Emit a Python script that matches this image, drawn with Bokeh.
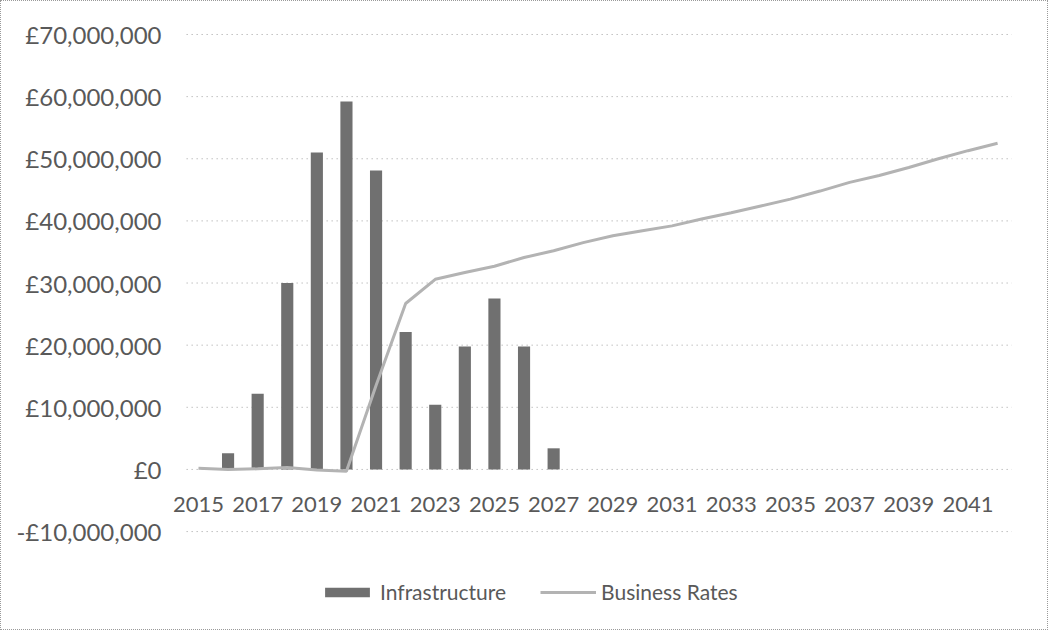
from bokeh.plotting import figure
from bokeh.models import (ColumnDataSource, FixedTicker, CustomJSTickFormatter, Legend, LegendItem, Range1d)
from bokeh.embed import file_html
from bokeh.resources import INLINE

# ---- data ----
years = list(range(2015, 2043))
infra_years = list(range(2016, 2028))
infrastructure = [2600000, 12200000, 30000000, 51000000, 59200000, 48100000,
                  22100000, 10400000, 19800000, 27500000, 19800000, 3400000]
business_rates = [200000, 0, 100000, 300000, -100000, -300000, 13500000, 26700000,
                  30600000, 31700000, 32700000, 34100000, 35200000, 36500000,
                  37600000, 38400000, 39200000, 40300000, 41300000, 42400000,
                  43500000, 44800000, 46200000, 47300000, 48600000, 50000000,
                  51300000, 52500000]
x_tick_years = list(range(2015, 2043, 2))
y_ticks = [-10000000, 0, 10000000, 20000000, 30000000, 40000000, 50000000, 60000000, 70000000]

FONT = "Lato"
TXT = "#595959"

bar_src = ColumnDataSource(dict(x=infra_years, top=infrastructure))
line_src = ColumnDataSource(dict(x=years, y=business_rates))
grid_src = ColumnDataSource(dict(x0=[2014.6] * len(y_ticks), x1=[2042.5] * len(y_ticks), y=y_ticks))

p = figure(width=1048, height=630, output_backend="svg", toolbar_location=None,
           x_range=Range1d(2013.92, 2042.47), y_range=Range1d(-25760000, 70480000),
           min_border_left=165, min_border_right=38, min_border_top=30, min_border_bottom=2,
           styles={"border": "1px dotted #9a9a9a"})

p.segment(x0="x0", y0="y", x1="x1", y1="y", source=grid_src,
          line_color="#a0a0a0", line_dash="1 4", line_width=1)
bars = p.vbar(x="x", top="top", bottom=0, width=0.41, source=bar_src,
              fill_color="#707070", line_color=None)
line = p.line(x="x", y="y", source=line_src, line_color="#b3b3b3", line_width=3)

p.outline_line_color = None
p.xgrid.grid_line_color = None
p.ygrid.grid_line_color = None

p.yaxis.ticker = FixedTicker(ticks=y_ticks)
p.yaxis.formatter = CustomJSTickFormatter(code="""
    const a = Math.abs(tick);
    const s = a.toFixed(0).replace(/\\B(?=(\\d{3})+(?!\\d))/g, ",");
    return (tick < 0 ? "-" : "") + "\u00a3" + s;
""")
p.yaxis.axis_line_color = None
p.yaxis.major_tick_line_color = None
p.yaxis.minor_tick_line_color = None
p.yaxis.major_tick_out = 0
p.yaxis.major_tick_in = 0
p.yaxis.major_label_standoff = 5
p.yaxis.major_label_text_font = FONT
p.yaxis.major_label_text_font_size = "24px"
p.yaxis.major_label_text_color = TXT

p.xaxis.ticker = FixedTicker(ticks=x_tick_years)
p.xaxis.fixed_location = 0
p.xaxis.axis_line_color = None
p.xaxis.major_tick_line_color = None
p.xaxis.minor_tick_line_color = None
p.xaxis.major_tick_out = 0
p.xaxis.major_tick_in = 0
p.xaxis.major_label_standoff = 28
p.xaxis.major_label_text_font = FONT
p.xaxis.major_label_text_font_size = "22px"
p.xaxis.major_label_text_color = TXT

legend = Legend(items=[LegendItem(label="Infrastructure", renderers=[bars]),
                       LegendItem(label="Business Rates", renderers=[line])],
                orientation="horizontal", location=(153, 25),
                glyph_width=56, glyph_height=12, label_standoff=5, spacing=34,
                label_text_font=FONT, label_text_font_size="21px", label_text_color=TXT,
                border_line_color=None, background_fill_alpha=0, margin=0, padding=4)
p.add_layout(legend, "center")

open("out.html", "w").write(file_html(p, INLINE))
